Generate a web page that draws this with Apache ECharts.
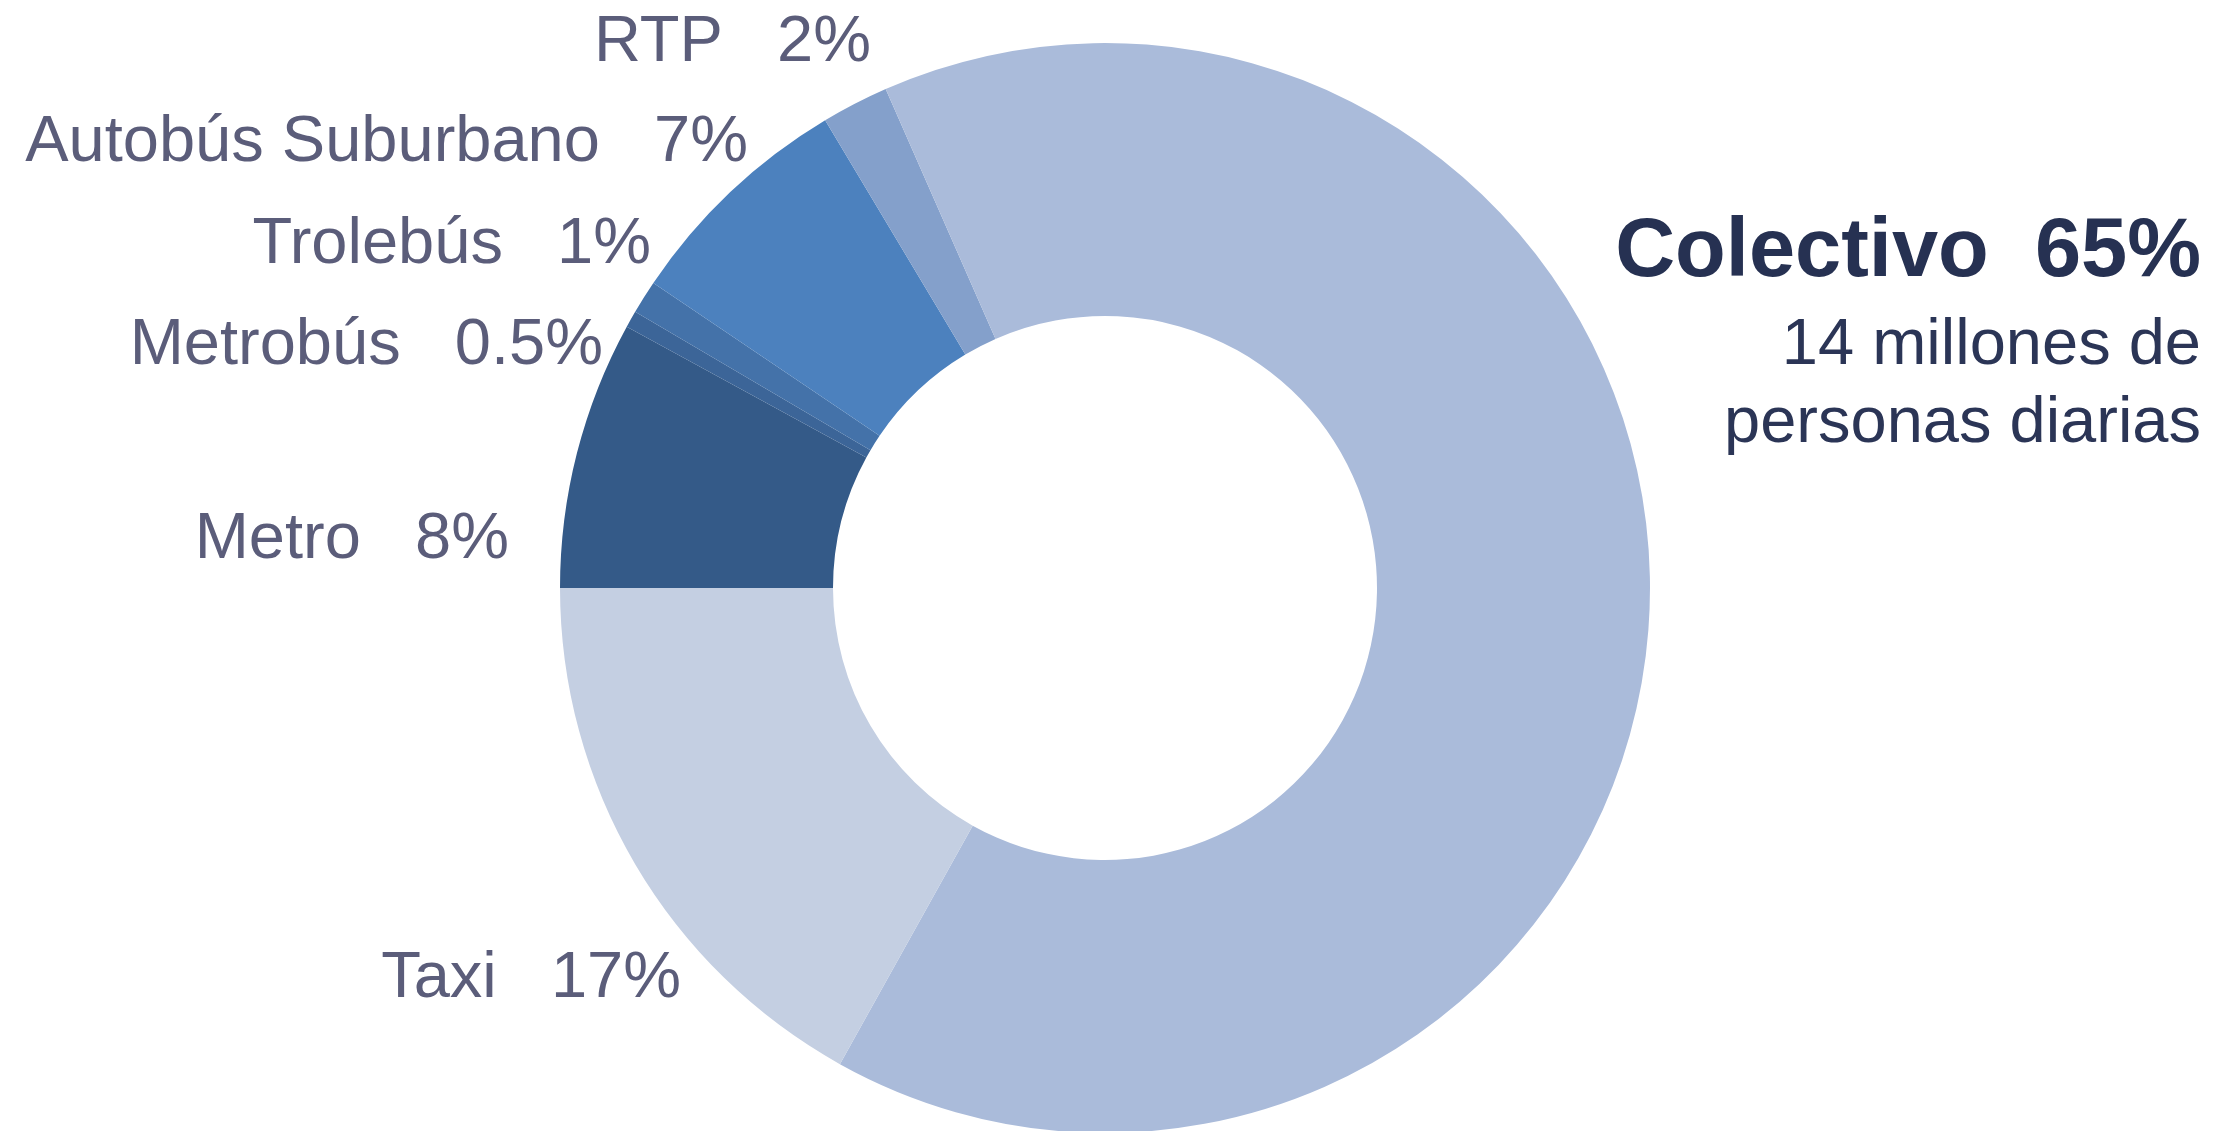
<!DOCTYPE html>
<html>
<head>
<meta charset="utf-8">
<script src="https://cdn.jsdelivr.net/npm/echarts@6/dist/echarts.min.js"></script>
<style>
  html, body { margin: 0; padding: 0; background: #fff; }
  #chart { width: 2227px; height: 1131px; }
</style>
</head>
<body>
<div id="chart"></div>
<script>
  // data (clockwise from 9 o'clock)
  var modos = ['Metro', 'Metrobús', 'Trolebús', 'Autobús Suburbano', 'RTP', 'Colectivo', 'Taxi'];
  var porcentajes = [8, 0.5, 1, 7, 2, 65, 17];
  var etiquetasPct = ['8%', '0.5%', '1%', '7%', '2%', '65%', '17%'];
  var notaColectivo = ['14 millones de', 'personas diarias'];

  var colores = ['#345a88', '#3c6598', '#4472a9', '#4c81be', '#84a0cb', '#aabbda', '#c4cfe2'];

  // where each label sits (right edge, vertical middle)
  var sitios = [
    { x: 509, y: 540 },
    { x: 603, y: 346 },
    { x: 651, y: 245 },
    { x: 748, y: 143 },
    { x: 871, y: 43 },
    { x: 2201, y: 200, top: true },
    { x: 681, y: 979 }
  ];

  var chartDom = document.getElementById('chart');
  var myChart = echarts.init(chartDom);

  var datos = modos.map(function (m, i) {
    var d = { name: m, value: porcentajes[i], itemStyle: { color: colores[i] } };
    if (m === 'Colectivo') {
      d.label = {
        formatter: '{a|' + m + '  ' + etiquetasPct[i] + '}\n{b|' + notaColectivo[0] + '}\n{b|' + notaColectivo[1] + '}',
        align: 'right',
        overflow: 'none',
        rich: {
          a: { fontSize: 83, fontWeight: 'bold', color: '#263152', lineHeight: 107, align: 'right',
               fontFamily: 'Liberation Sans, Arial, sans-serif' },
          b: { fontSize: 65, color: '#2b3556', lineHeight: 78, align: 'right',
               fontFamily: 'Liberation Sans, Arial, sans-serif' }
        }
      };
    }
    return d;
  });

  var option = {
    animation: false,
    series: [
      {
        type: 'pie',
        center: [1105, 588],
        radius: [272, 545],
        startAngle: 180,
        clockwise: true,
        silent: true,
        emphasis: { disabled: true },
        itemStyle: { borderWidth: 0 },
        label: {
          show: true,
          position: 'outside',
          overflow: 'none',
          fontSize: 65,
          fontFamily: 'Liberation Sans, Arial, sans-serif',
          color: '#5b5d7a',
          formatter: function (p) {
            return p.name + '   ' + etiquetasPct[p.dataIndex];
          }
        },
        labelLine: { show: false },
        labelLayout: function (p) {
          var s = sitios[p.dataIndex];
          return {
            x: s.x,
            y: s.y,
            align: 'right',
            verticalAlign: s.top ? 'top' : 'middle'
          };
        },
        data: datos
      }
    ]
  };

  option && myChart.setOption(option);
</script>
</body>
</html>
